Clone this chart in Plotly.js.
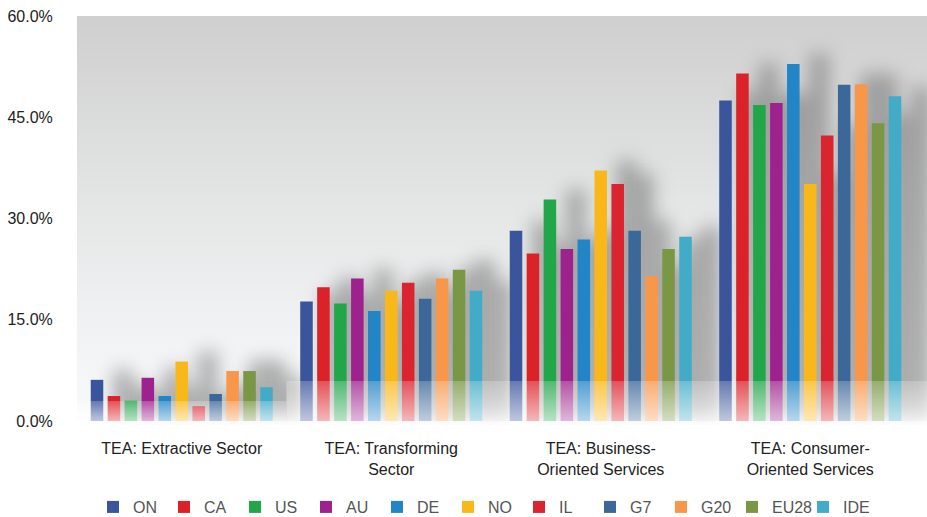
<!DOCTYPE html>
<html>
<head>
<meta charset="utf-8">
<script src="https://cdn.plot.ly/plotly-3.0.1.min.js"></script>
<style>
  html, body { margin: 0; padding: 0; background: #ffffff; }
  #chart { width: 927px; height: 517px; }
</style>
</head>
<body>
<div id="chart"></div>
<script>
// ---- data ----
const categories = [
  "TEA: Extractive Sector",
  "TEA: Transforming<br>Sector",
  "TEA: Business-<br>Oriented Services",
  "TEA: Consumer-<br>Oriented Services"
];
const seriesNames = ["ON", "CA", "US", "AU", "DE", "NO", "IL", "G7", "G20", "EU28", "IDE"];
const ON   = [6.1, 17.7, 28.2, 47.5];
const CA   = [3.7, 19.8, 24.8, 51.5];
const US   = [3.0, 17.4, 32.8, 46.8];
const AU   = [6.4, 21.1, 25.5, 47.1];
const DE   = [3.7, 16.3, 26.9, 52.9];
const NO   = [8.8, 19.3, 37.1, 35.1];
const IL   = [2.2, 20.5, 35.1, 42.3];
const G7   = [4.0, 18.1, 28.2, 49.8];
const G20  = [7.4, 21.1, 21.5, 49.9];
const EU28 = [7.4, 22.4, 25.5, 44.1];
const IDE  = [5.0, 19.3, 27.3, 48.1];
const seriesValues = [ON, CA, US, AU, DE, NO, IL, G7, G20, EU28, IDE];
const seriesColors = ["#3A559B", "#DC2229", "#21A64A", "#9E228D", "#2185C8", "#F9B819",
                      "#DA242F", "#3B6899", "#F8974A", "#7A9746", "#42ACC8"];
const yTicks = [0, 15, 30, 45, 60];

// ---- chart ----
const traces = seriesNames.map((name, i) => ({
  type: "bar",
  name: name,
  x: categories,
  y: seriesValues[i],
  marker: { color: seriesColors[i], line: { width: 0 } },
  hoverinfo: "none"
}));

const W = 927, H = 517;
const M = { l: 77, r: 12, t: 16, b: 96 };

const layout = {
  width: W, height: H,
  margin: M,
  paper_bgcolor: "#ffffff",
  plot_bgcolor: "rgba(0,0,0,0)",
  font: { family: "Liberation Sans, Arial, sans-serif", size: 16, color: "#222222" },
  barmode: "group",
  bargap: 0.11,
  bargroupgap: 0.26,
  showlegend: true,
  legend: {
    orientation: "h",
    xref: "container", yref: "container",
    x: 0.1003, xanchor: "left",
    y: 0.0193, yanchor: "middle",
    font: { size: 16, color: "#555555" },
    entrywidth: 26, entrywidthmode: "pixels",
    traceorder: "normal",
    bgcolor: "rgba(0,0,0,0)"
  },
  xaxis: {
    type: "category",
    showgrid: false, zeroline: false, showline: false,
    ticks: "outside", ticklen: 13, tickcolor: "rgba(0,0,0,0)",
    tickfont: { size: 16, color: "#222222" }
  },
  yaxis: {
    range: [0, 60],
    tickvals: yTicks,
    ticktext: yTicks.map(v => v.toFixed(1) + "%"),
    showgrid: false, zeroline: false, showline: false,
    ticks: "outside", ticklen: 20, tickcolor: "rgba(0,0,0,0)",
    tickfont: { size: 16, color: "#222222" }
  }
};

const gd = document.getElementById("chart");
Plotly.newPlot(gd, traces, layout, { displayModeBar: false, staticPlot: true }).then(() => {
  const fl = gd._fullLayout;
  const xa = fl.xaxis, ya = fl.yaxis;
  const pw = fl._size.w, ph = fl._size.h;
  const ml = fl._size.l, mt = fl._size.t;
  const baseY = ya._offset + ya.l2p(0);

  // collect bar rectangles from the rendered bars
  const bars = [];
  gd.querySelectorAll(".barlayer .point path").forEach(p => {
    const b = p.getBBox();
    bars.push({ x: b.x + xa._offset, y: b.y + ya._offset, w: b.width, h: b.height });
  });

  // background canvas
  const bg = document.createElement("canvas");
  bg.width = W; bg.height = H;
  const c = bg.getContext("2d");
  c.fillStyle = "#ffffff"; c.fillRect(0, 0, W, H);
  const g = c.createLinearGradient(0, mt, 0, baseY + 12);
  g.addColorStop(0.0, "#cfcfcf");
  g.addColorStop(0.45, "#e4e5e5");
  g.addColorStop(0.75, "#f1f2f3");
  g.addColorStop(0.93, "#f7f8f9");
  g.addColorStop(1.0, "#ffffff");
  c.fillStyle = g;
  c.fillRect(ml, mt, W - ml, baseY + 12 - mt);

  // blurred shadows behind bars
  c.save();
  c.beginPath(); c.rect(ml, mt, W - ml, baseY - mt + 4); c.clip();
  c.filter = "blur(9px)";
  c.fillStyle = "rgba(105,105,105,0.5)";
  bars.forEach(b => {
    c.fillRect(b.x + 22, b.y - 10, b.w + 8, (baseY - b.y) + 10);
  });
  c.restore();

  // overlay (reflection band) canvas
  const ov = document.createElement("canvas");
  ov.width = W; ov.height = H;
  const o = ov.getContext("2d");
  const split = xa._offset + (xa.l2p(0) + xa.l2p(1)) / 2;
  const bands = [
    { x0: ml, x1: split, top: baseY - 20 },
    { x0: split, x1: W, top: baseY - 40 }
  ];
  bands.forEach(bd => {
    const gg = o.createLinearGradient(0, bd.top, 0, baseY);
    gg.addColorStop(0, "rgba(255,255,255,0.22)");
    gg.addColorStop(1, "rgba(255,255,255,0.68)");
    o.fillStyle = gg;
    o.fillRect(bd.x0, bd.top, bd.x1 - bd.x0, baseY - bd.top);
  });
  const g2 = o.createLinearGradient(0, baseY, 0, baseY + 14);
  g2.addColorStop(0, "rgba(255,255,255,0.85)");
  g2.addColorStop(1, "rgba(255,255,255,1)");
  o.fillStyle = g2;
  o.fillRect(ml, baseY, W - ml, 14);

  const full = (src, layer) => ({
    source: src, xref: "paper", yref: "paper",
    x: -ml / pw, y: 1 + mt / ph,
    sizex: W / pw, sizey: H / ph,
    xanchor: "left", yanchor: "top",
    sizing: "stretch", layer: layer, opacity: 1
  });
  return Plotly.relayout(gd, {
    images: [full(bg.toDataURL("image/png"), "below"), full(ov.toDataURL("image/png"), "above")]
  });
});
</script>
</body>
</html>
